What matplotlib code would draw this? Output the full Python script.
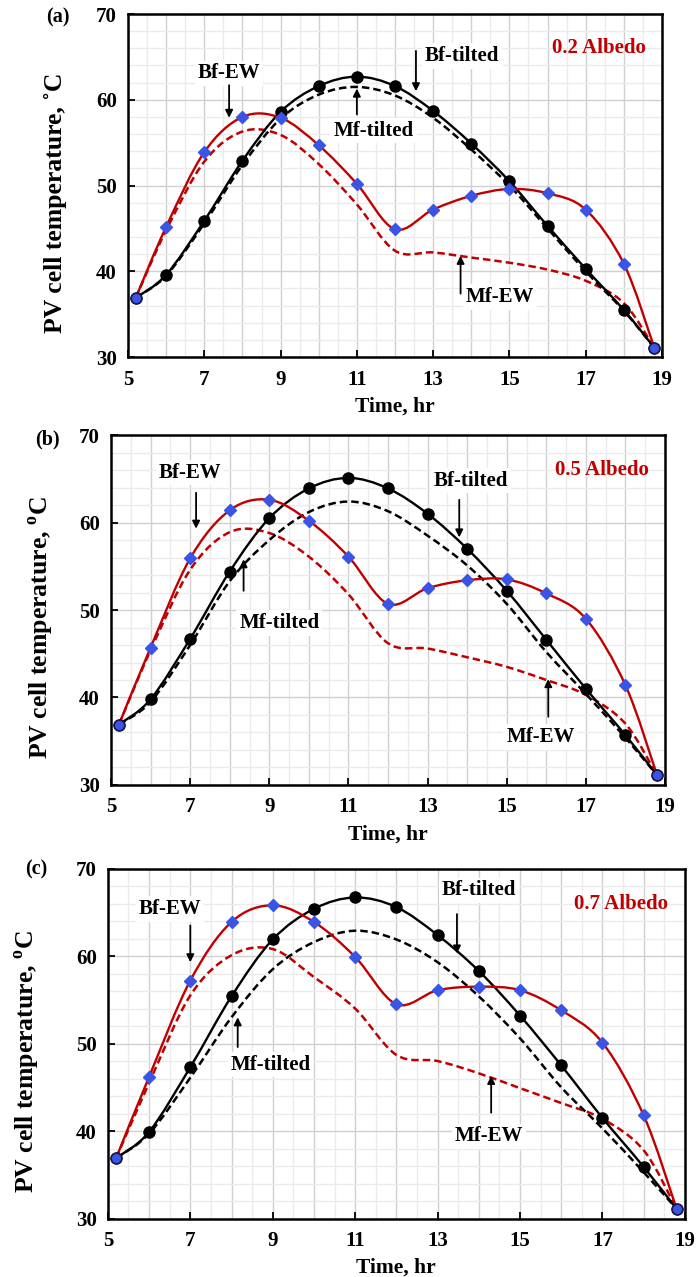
import numpy as np
import matplotlib
matplotlib.use("Agg")
import matplotlib.pyplot as plt
from matplotlib.path import Path
from matplotlib.patches import PathPatch
from matplotlib.ticker import MultipleLocator

plt.rcParams['font.family'] = ['Liberation Serif', 'DejaVu Serif']
plt.rcParams['font.weight'] = 'bold'
plt.rcParams['mathtext.fontset'] = 'custom'
plt.rcParams['mathtext.bf'] = 'Liberation Serif:bold'
plt.rcParams['mathtext.rm'] = 'Liberation Serif:bold'

# hours of the day (first / last points are sunrise / sunset)
hours = [5.2, 6, 7, 8, 9, 10, 11, 12, 13, 14, 15, 16, 17, 18, 18.8]

# (a) 0.2 albedo
bf_tilted_a = [36.9, 39.6, 45.9, 52.9, 58.6, 61.6, 62.7, 61.6, 58.7, 54.9, 50.5, 45.3, 40.3, 35.5, 31.1]
bf_ew_a = [36.9, 45.2, 53.9, 58.0, 57.9, 54.7, 50.2, 44.9, 47.2, 48.8, 49.6, 49.1, 47.2, 40.9, 31.1]
mf_tilted_a = [36.9, 39.5, 45.6, 52.4, 57.8, 60.6, 61.5, 60.5, 57.9, 54.2, 50.0, 45.0, 40.0, 35.4, 31.1]
mf_ew_a = [36.9, 44.8, 52.8, 56.3, 55.9, 52.5, 47.8, 42.4, 42.2, 41.6, 41.0, 40.2, 38.9, 36.3, 31.1]

# (b) 0.5 albedo
bf_tilted_b = [36.9, 39.8, 46.7, 54.4, 60.5, 63.9, 65.1, 63.9, 61.0, 57.0, 52.2, 46.6, 41.0, 35.7, 31.1]
bf_ew_b = [36.9, 45.7, 55.9, 61.4, 62.6, 60.2, 56.1, 50.7, 52.5, 53.4, 53.5, 51.9, 49.0, 41.4, 31.1]
mf_tilted_b = [36.9, 39.5, 46.0, 53.3, 58.0, 61.2, 62.4, 61.3, 58.5, 55.1, 50.7, 45.2, 40.4, 35.4, 31.1]
mf_ew_b = [36.9, 45.4, 54.6, 58.9, 58.8, 56.1, 51.8, 46.2, 45.6, 44.6, 43.5, 42.0, 40.3, 37.0, 31.1]

# (c) 0.7 albedo
bf_tilted_c = [36.9, 39.9, 47.3, 55.4, 61.9, 65.4, 66.7, 65.6, 62.4, 58.3, 53.2, 47.5, 41.5, 35.9, 31.1]
bf_ew_c = [36.9, 46.2, 57.2, 63.9, 65.8, 63.9, 59.9, 54.5, 56.1, 56.5, 56.1, 53.8, 50.1, 41.8, 31.1]
mf_tilted_c = [36.9, 39.7, 46.1, 53.0, 58.5, 61.6, 62.9, 61.9, 59.3, 55.4, 50.6, 45.0, 40.3, 35.3, 31.1]
mf_ew_c = [36.9, 45.5, 55.5, 60.1, 60.8, 57.6, 54.0, 48.7, 48.0, 46.6, 44.9, 43.2, 41.4, 37.8, 31.1]

albedo_labels = ["0.2 Albedo", "0.5 Albedo", "0.7 Albedo"]
panel_tags = ["(a)", "(b)", "(c)"]
ylabels = ["PV cell temperature, \u02daC",
           r"PV cell temperature, $^{\mathbf{o}}$C",
           r"PV cell temperature, $^{\mathbf{o}}$C"]

RED = '#c00000'
BLUE = '#3a55e6'


# smooth line like excel (bezier segments, catmull-rom control points)
def smooth_path(x, y):
    pts = np.column_stack([x, y])
    n = len(pts)
    verts = [pts[0]]
    codes = [Path.MOVETO]
    for i in range(n - 1):
        p0 = pts[i - 1] if i > 0 else pts[i]
        p1 = pts[i]
        p2 = pts[i + 1]
        p3 = pts[i + 2] if i + 2 < n else pts[i + 1]
        c1 = p1 + (p2 - p0) / 6.0
        c2 = p2 - (p3 - p1) / 6.0
        verts += [c1, c2, p2]
        codes += [Path.CURVE4] * 3
    return Path(verts, codes)


def draw_line(ax, x, y, color, ls, lw):
    patch = PathPatch(smooth_path(x, y), facecolor='none', edgecolor=color,
                      linestyle=ls, lw=lw, zorder=3, capstyle='butt')
    ax.add_patch(patch)


def label(ax, txt, pos, tail, head):
    ax.annotate('', xy=head, xytext=tail,
                arrowprops=dict(arrowstyle='-|>', color='black', lw=1.3,
                                mutation_scale=11, shrinkA=0, shrinkB=0), zorder=5)
    ax.text(pos[0], pos[1], txt, fontsize=15, fontweight='bold', ha='center', va='center',
            bbox=dict(facecolor='white', edgecolor='none', pad=2), zorder=4)


panels = [
    (bf_tilted_a, bf_ew_a, mf_tilted_a, mf_ew_a),
    (bf_tilted_b, bf_ew_b, mf_tilted_b, mf_ew_b),
    (bf_tilted_c, bf_ew_c, mf_tilted_c, mf_ew_c),
]

# label positions: (text xy, arrow tail, arrow head)
notes = [
    {"Bf-EW": ((7.65, 63.1), (7.65, 61.7), (7.65, 57.9)),
     "Bf-tilted": ((13.75, 65.1), (12.55, 65.7), (12.55, 61.0)),
     "Mf-tilted": ((11.45, 56.4), (11.0, 58.3), (11.0, 61.3)),
     "Mf-EW": ((14.75, 37.0), (13.72, 37.4), (13.72, 41.8))},
    {"Bf-EW": ((7.0, 65.7), (7.15, 63.4), (7.15, 59.3)),
     "Bf-tilted": ((14.1, 64.8), (13.8, 62.6), (13.8, 58.3)),
     "Mf-tilted": ((9.25, 48.5), (8.35, 52.2), (8.35, 55.8)),
     "Mf-EW": ((15.85, 35.5), (16.05, 37.8), (16.05, 42.1))},
    {"Bf-EW": ((6.5, 65.4), (7.0, 63.5), (7.0, 59.3)),
     "Bf-tilted": ((14.0, 67.5), (13.47, 64.8), (13.47, 60.3)),
     "Mf-tilted": ((8.95, 47.6), (8.15, 49.6), (8.15, 53.0)),
     "Mf-EW": ((14.25, 39.4), (14.3, 42.1), (14.3, 46.3))},
]

axes_pos = [
    [0.184, 0.7204, 0.767, 0.2686],
    [0.1595, 0.3853, 0.796, 0.274],
    [0.155, 0.0458, 0.829, 0.274],
]
ylab_x = [-0.114, -0.099, -0.114]
tag_xy = [(0.066, 0.986), (0.05, 0.656), (0.036, 0.319)]

fig = plt.figure(figsize=(6.96, 12.77), dpi=100)

for k in range(3):
    ax = fig.add_axes(axes_pos[k])
    bf_t, bf_e, mf_t, mf_e = panels[k]

    draw_line(ax, hours, mf_e, RED, (0, (3.0, 1.6)), 1.8)
    draw_line(ax, hours, mf_t, 'black', (0, (3.0, 1.6)), 1.8)
    draw_line(ax, hours, bf_t, 'black', '-', 1.7)
    draw_line(ax, hours, bf_e, RED, '-', 1.7)
    ax.plot(hours, bf_t, 'o', color='black', markersize=8, zorder=6)
    ax.plot(hours[1:-1], bf_e[1:-1], 'D', color=BLUE, markersize=6, zorder=7)
    ax.plot([hours[0], hours[-1]], [bf_e[0], bf_e[-1]], 'o', color=BLUE,
            markeredgecolor='#1a1a60', markeredgewidth=1, markersize=7.5, zorder=7)

    for name, (pos, tail, head) in notes[k].items():
        label(ax, name, pos, tail, head)

    ax.text(0.97, 0.9, albedo_labels[k], transform=ax.transAxes, color=RED,
            fontsize=15, fontweight='bold', ha='right', va='center', zorder=8)

    ax.set_xlim(5, 19)
    ax.set_ylim(30, 70)
    ax.set_xticks([5, 7, 9, 11, 13, 15, 17, 19])
    ax.set_yticks([30, 40, 50, 60, 70])
    ax.xaxis.set_minor_locator(MultipleLocator(0.5))
    ax.yaxis.set_minor_locator(MultipleLocator(2))
    # grid lines every hour / half hour
    for h in np.arange(5.5, 19, 0.5):
        ax.axvline(h, color='#d0d0d0' if h % 1 == 0 else '#ebebeb', lw=1.0, zorder=0)
    ax.grid(True, which='major', axis='y', color='#d0d0d0', lw=1.0, zorder=0)
    ax.grid(True, which='minor', axis='y', color='#ebebeb', lw=1.0, zorder=0)
    ax.set_axisbelow(True)

    ax.tick_params(which='major', direction='in', length=5, width=1.3, labelsize=15)
    ax.tick_params(which='minor', length=0)
    ax.tick_params(axis='x', pad=9)
    ax.tick_params(axis='y', pad=8)
    for lab in ax.get_xticklabels() + ax.get_yticklabels():
        lab.set_fontweight('bold')
    for s in ax.spines.values():
        s.set_linewidth(1.8)

    ax.set_xlabel("Time, hr", fontsize=15.5, fontweight='bold', labelpad=5)
    ax.set_ylabel(ylabels[k], fontsize=18.5, fontweight='bold')
    ax.yaxis.set_label_coords(ylab_x[k], 0.45)

    fig.text(tag_xy[k][0], tag_xy[k][1], panel_tags[k], fontsize=14.5,
             fontweight='bold', ha='left', va='center')

fig.savefig("out.png", dpi=100)
